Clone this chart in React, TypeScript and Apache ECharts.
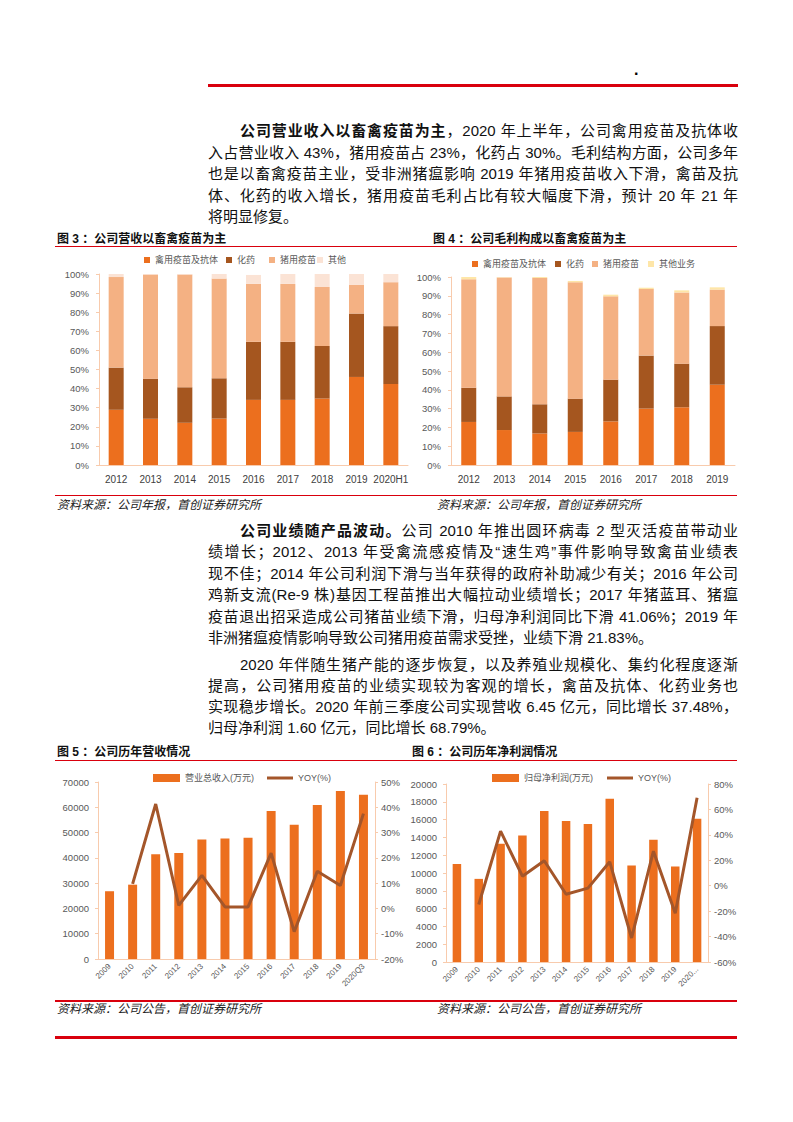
import React, { useEffect, useRef } from "react";
import * as echarts from "echarts";

// ---------- data ----------
const fig3Years = ["2012", "2013", "2014", "2015", "2016", "2017", "2018", "2019", "2020H1"];
const fig3Poultry = [28.9, 24.2, 22.1, 24.3, 34.1, 34.1, 34.8, 46.1, 42.4];
const fig3Chem = [22.1, 21.0, 18.6, 21.1, 30.4, 30.4, 27.5, 33.2, 30.3];
const fig3Swine = [47.4, 54.5, 59.0, 52.2, 30.3, 30.3, 30.9, 15.1, 23.0];
const fig3Other = [1.6, 0.3, 0.3, 2.4, 4.7, 5.2, 6.8, 5.6, 4.3];

const fig4Years = ["2012", "2013", "2014", "2015", "2016", "2017", "2018", "2019"];
const fig4Poultry = [22.9, 18.6, 16.8, 17.6, 23.2, 30.0, 30.7, 42.7];
const fig4Chem = [18.2, 17.9, 15.5, 17.7, 22.2, 28.2, 23.2, 31.2];
const fig4Swine = [57.7, 63.3, 67.2, 61.9, 44.3, 35.4, 37.9, 19.4];
const fig4Other = [1.2, 0.2, 0.5, 0.7, 0.9, 0.7, 1.1, 1.2];

const fig5Years = ["2009", "2010", "2011", "2012", "2013", "2014", "2015", "2016", "2017", "2018", "2019", "2020Q3"];
const fig5Revenue = [26800, 29400, 41400, 41900, 47300, 47700, 48000, 58500, 53100, 60900, 66400, 65000];
const fig5Yoy = [null, 9.7, 41.3, 1.2, 13.1, 0.6, 0.6, 21.9, -9.2, 14.7, 9.1, 37.5];

const fig6Years = ["2009", "2010", "2011", "2012", "2013", "2014", "2015", "2016", "2017", "2018", "2019", "2020..."];
const fig6Profit = [11000, 9340, 13280, 14220, 16960, 15830, 15500, 18350, 10840, 13730, 10730, 16100];
const fig6Yoy = [null, -14.8, 42.9, 7.5, 19.6, -6.7, -1.9, 18.8, -41.1, 27.2, -21.6, 69.2];

// ---------- styles ----------
const ORANGE = "#EC6F1E";
const BROWN = "#A5561F";
const LIGHT = "#F4B183";
const PALE = "#FBE3D5";
const CREAM = "#FEE6A8";
const LINE_BROWN = "#A4562A";
const AXIS = "#F8CBAD";
const LABEL = "#595959";
const RED = "#D9000D";
const FONT = '"Liberation Sans", "Noto Sans CJK SC", sans-serif';
const TEXT_FONT = '"Liberation Sans", "Noto Sans CJK SC", sans-serif';

function legendItem(name: string, left: number, cy: number, w: number, h: number) {
  return {
    left,
    top: cy - 6,
    padding: 0,
    itemWidth: w,
    itemHeight: h,
    itemGap: 0,
    itemTextGap: 3,
    selectedMode: false,
    data: [{ name, icon: "rect" }],
    textStyle: { fontSize: 9, color: LABEL, fontFamily: FONT, lineHeight: 12 },
  };
}

function catAxis(gridIndex: number, data: string[], rotated: boolean) {
  return {
    type: "category",
    gridIndex,
    data,
    axisLine: { show: true, lineStyle: { color: AXIS, width: 1 } },
    axisTick: { show: false },
    axisLabel: rotated
      ? { rotate: 45, interval: 0, fontSize: 8, color: LABEL, margin: 6, fontFamily: FONT }
      : { interval: 0, fontSize: 10, color: "#404040", margin: 9, fontFamily: FONT },
  };
}

function valAxis(gridIndex: number, min: number, max: number, interval: number, pct: boolean, right: boolean, margin: number) {
  return {
    type: "value",
    gridIndex,
    min,
    max,
    interval,
    position: right ? "right" : "left",
    axisLine: { show: true, lineStyle: { color: AXIS, width: 1 } },
    axisTick: { show: true, length: 3, lineStyle: { color: AXIS } },
    splitLine: { show: false },
    axisLabel: {
      formatter: (v: number) => (pct ? String(v) + "%" : String(v)),
      fontSize: 9.5,
      color: LABEL,
      margin,
      fontFamily: FONT,
    },
  };
}

function stackBar(name: string, data: number[], color: string, xi: number, stack: string, w: number) {
  return {
    type: "bar",
    name,
    data,
    stack,
    xAxisIndex: xi,
    yAxisIndex: xi,
    barWidth: w,
    itemStyle: { color },
  };
}

const option: any = {
  animation: false,
  grid: [
    { left: 99, top: 274, width: 309, height: 191, outerBoundsMode: "none" },
    { left: 451, top: 277, width: 284, height: 188, outerBoundsMode: "none" },
    { left: 98, top: 782, width: 277, height: 177, outerBoundsMode: "none" },
    { left: 446, top: 784, width: 262, height: 178, outerBoundsMode: "none" },
  ],
  legend: [
    legendItem("禽用疫苗及抗体", 144, 260, 6, 6),
    legendItem("化药", 226, 260, 6, 6),
    legendItem("猪用疫苗", 269, 260, 6, 6),
    legendItem("其他", 317, 260, 6, 6),
    legendItem("禽用疫苗及抗体", 472, 264, 6, 6),
    legendItem("化药", 555, 264, 6, 6),
    legendItem("猪用疫苗", 592, 264, 6, 6),
    legendItem("其他业务", 648, 264, 6, 6),
    legendItem("营业总收入(万元)", 153, 778, 27, 8),
    legendItem("YOY(%)", 267, 778, 26, 3),
    legendItem("归母净利润(万元)", 492, 778, 27, 8),
    legendItem("YOY(%)", 607, 778, 26, 3),
  ],
  xAxis: [
    catAxis(0, fig3Years, false),
    catAxis(1, fig4Years, false),
    catAxis(2, fig5Years, true),
    catAxis(3, fig6Years, true),
  ],
  yAxis: [
    valAxis(0, 0, 100, 10, true, false, 10),
    valAxis(1, 0, 100, 10, true, false, 10),
    valAxis(2, 0, 70000, 10000, false, false, 9),
    valAxis(2, -20, 50, 10, true, true, 6),
    valAxis(3, 0, 20000, 2000, false, false, 9),
    valAxis(3, -60, 80, 20, true, true, 6),
  ],
  series: [
    stackBar("禽用疫苗及抗体", fig3Poultry, ORANGE, 0, "f3", 15),
    stackBar("化药", fig3Chem, BROWN, 0, "f3", 15),
    stackBar("猪用疫苗", fig3Swine, LIGHT, 0, "f3", 15),
    stackBar("其他", fig3Other, PALE, 0, "f3", 15),
    stackBar("禽用疫苗及抗体", fig4Poultry, ORANGE, 1, "f4", 15),
    stackBar("化药", fig4Chem, BROWN, 1, "f4", 15),
    stackBar("猪用疫苗", fig4Swine, LIGHT, 1, "f4", 15),
    stackBar("其他业务", fig4Other, CREAM, 1, "f4", 15),
    {
      type: "bar",
      name: "营业总收入(万元)",
      data: fig5Revenue,
      xAxisIndex: 2,
      yAxisIndex: 2,
      barWidth: 9,
      itemStyle: { color: ORANGE },
    },
    {
      type: "line",
      name: "YOY(%)",
      data: fig5Yoy,
      xAxisIndex: 2,
      yAxisIndex: 3,
      symbol: "none",
      lineStyle: { width: 3, color: LINE_BROWN },
      itemStyle: { color: LINE_BROWN },
    },
    {
      type: "bar",
      name: "归母净利润(万元)",
      data: fig6Profit,
      xAxisIndex: 3,
      yAxisIndex: 4,
      barWidth: 8.5,
      itemStyle: { color: ORANGE },
    },
    {
      type: "line",
      name: "YOY(%)",
      data: fig6Yoy,
      xAxisIndex: 3,
      yAxisIndex: 5,
      symbol: "none",
      lineStyle: { width: 3, color: LINE_BROWN },
      itemStyle: { color: LINE_BROWN },
    },
  ],
};

// ---------- text ----------
type Seg = [string, boolean];
type TextLine = { y: number; indent: boolean; justify: boolean; segs: Seg[] };

const para1: TextLine[] = [
  { y: 131, indent: true, justify: true, segs: [["公司营业收入以畜禽疫苗为主", true], ["，2020 年上半年，公司禽用疫苗及抗体收", false]] },
  { y: 152.5, indent: false, justify: true, segs: [["入占营业收入 43%，猪用疫苗占 23%，化药占 30%。毛利结构方面，公司多年", false]] },
  { y: 174, indent: false, justify: true, segs: [["也是以畜禽疫苗主业，受非洲猪瘟影响 2019 年猪用疫苗收入下滑，禽苗及抗", false]] },
  { y: 195.5, indent: false, justify: true, segs: [["体、化药的收入增长，猪用疫苗毛利占比有较大幅度下滑，预计 20 年 21 年", false]] },
  { y: 217, indent: false, justify: false, segs: [["将明显修复。", false]] },
];

const para2: TextLine[] = [
  { y: 530.5, indent: true, justify: true, segs: [["公司业绩随产品波动。", true], ["公司 2010 年推出圆环病毒 2 型灭活疫苗带动业", false]] },
  { y: 552, indent: false, justify: true, segs: [["绩增长；2012、2013 年受禽流感疫情及“速生鸡”事件影响导致禽苗业绩表", false]] },
  { y: 573.5, indent: false, justify: true, segs: [["现不佳；2014 年公司利润下滑与当年获得的政府补助减少有关；2016 年公司", false]] },
  { y: 595, indent: false, justify: true, segs: [["鸡新支流(Re-9 株)基因工程苗推出大幅拉动业绩增长；2017 年猪蓝耳、猪瘟", false]] },
  { y: 616.5, indent: false, justify: true, segs: [["疫苗退出招采造成公司猪苗业绩下滑，归母净利润同比下滑 41.06%；2019 年", false]] },
  { y: 638, indent: false, justify: false, segs: [["非洲猪瘟疫情影响导致公司猪用疫苗需求受挫，业绩下滑 21.83%。", false]] },
  { y: 665, indent: true, justify: true, segs: [["2020 年伴随生猪产能的逐步恢复，以及养殖业规模化、集约化程度逐渐", false]] },
  { y: 686, indent: false, justify: true, segs: [["提高，公司猪用疫苗的业绩实现较为客观的增长，禽苗及抗体、化药业务也", false]] },
  { y: 706.5, indent: false, justify: true, segs: [["实现稳步增长。2020 年前三季度公司实现营收 6.45 亿元，同比增长 37.48%，", false]] },
  { y: 727.5, indent: false, justify: false, segs: [["归母净利润 1.60 亿元，同比增长 68.79%。", false]] },
];

const titles = [
  { x: 57, y: 239, text: "图\u00a03\u00a0：公司营收以畜禽疫苗为主" },
  { x: 433, y: 239, text: "图\u00a04\u00a0：公司毛利构成以畜禽疫苗为主" },
  { x: 57, y: 752, text: "图\u00a05\u00a0：公司历年营收情况" },
  { x: 412, y: 752, text: "图\u00a06\u00a0：公司历年净利润情况" },
];

const sources = [
  { x: 57, y: 505, text: "资料来源：公司年报，首创证券研究所" },
  { x: 437, y: 505, text: "资料来源：公司年报，首创证券研究所" },
  { x: 57, y: 1009, text: "资料来源：公司公告，首创证券研究所" },
  { x: 437, y: 1009, text: "资料来源：公司公告，首创证券研究所" },
];

const rules = [
  { x: 208, y: 83.5, w: 530, h: 3 },
  { x: 55, y: 245.5, w: 682, h: 1.5 },
  { x: 55, y: 494.5, w: 682, h: 1.5 },
  { x: 55, y: 759.5, w: 682, h: 1.5 },
  { x: 55, y: 1000, w: 682, h: 1.5 },
  { x: 55, y: 1036, w: 682, h: 2.5 },
];

function renderLine(l: TextLine, i: number) {
  const left = l.indent ? 240 : 208;
  const width = 738 - left;
  return (
    <div
      key={i}
      style={{
        position: "absolute",
        left,
        top: l.y - 11,
        width,
        height: 22,
        lineHeight: "22px",
        fontSize: 15,
        fontFamily: TEXT_FONT,
        color: "#111",
        textAlign: l.justify ? "justify" : "left",
        textAlignLast: l.justify ? "justify" : "left",
        whiteSpace: "nowrap",
      } as any}
    >
      {l.segs.map((s, j) => (
        <span key={j} style={{ fontWeight: s[1] ? 700 : 400 }}>
          {s[0]}
        </span>
      ))}
    </div>
  );
}

export default function App() {
  const ref = useRef<HTMLDivElement>(null);
  useEffect(() => {
    const chart = echarts.init(ref.current as HTMLDivElement, null, { renderer: "svg" });
    chart.setOption(option);
    return () => chart.dispose();
  }, []);

  return (
    <div
      style={{
        position: "absolute",
        left: 0,
        top: 0,
        width: 793,
        height: 1122,
        background: "#fff",
        overflow: "hidden",
      }}
    >
      {rules.map((r, i) => (
        <div key={"r" + i} style={{ position: "absolute", left: r.x, top: r.y, width: r.w, height: r.h, background: RED }} />
      ))}
      <div
        style={{
          position: "absolute",
          left: 634,
          top: 60,
          fontSize: 16,
          fontWeight: 700,
          lineHeight: "20px",
          fontFamily: TEXT_FONT,
          color: "#000",
        }}
      >
        .
      </div>
      {para1.map(renderLine)}
      {para2.map((l, i) => renderLine(l, 100 + i))}
      {titles.map((t, i) => (
        <div
          key={"t" + i}
          style={{
            position: "absolute",
            left: t.x,
            top: t.y - 8,
            height: 16,
            lineHeight: "16px",
            fontSize: 12,
            fontWeight: 700,
            fontFamily: TEXT_FONT,
            color: "#111",
            whiteSpace: "nowrap",
          }}
        >
          {t.text}
        </div>
      ))}
      {sources.map((s, i) => (
        <div
          key={"s" + i}
          style={{
            position: "absolute",
            left: s.x,
            top: s.y - 8,
            height: 16,
            lineHeight: "16px",
            fontSize: 12,
            fontStyle: "italic",
            fontFamily: TEXT_FONT,
            color: "#222",
            whiteSpace: "nowrap",
          }}
        >
          {s.text}
        </div>
      ))}
      <div ref={ref} style={{ position: "absolute", left: 0, top: 0, width: 793, height: 1122 }} />
    </div>
  );
}
